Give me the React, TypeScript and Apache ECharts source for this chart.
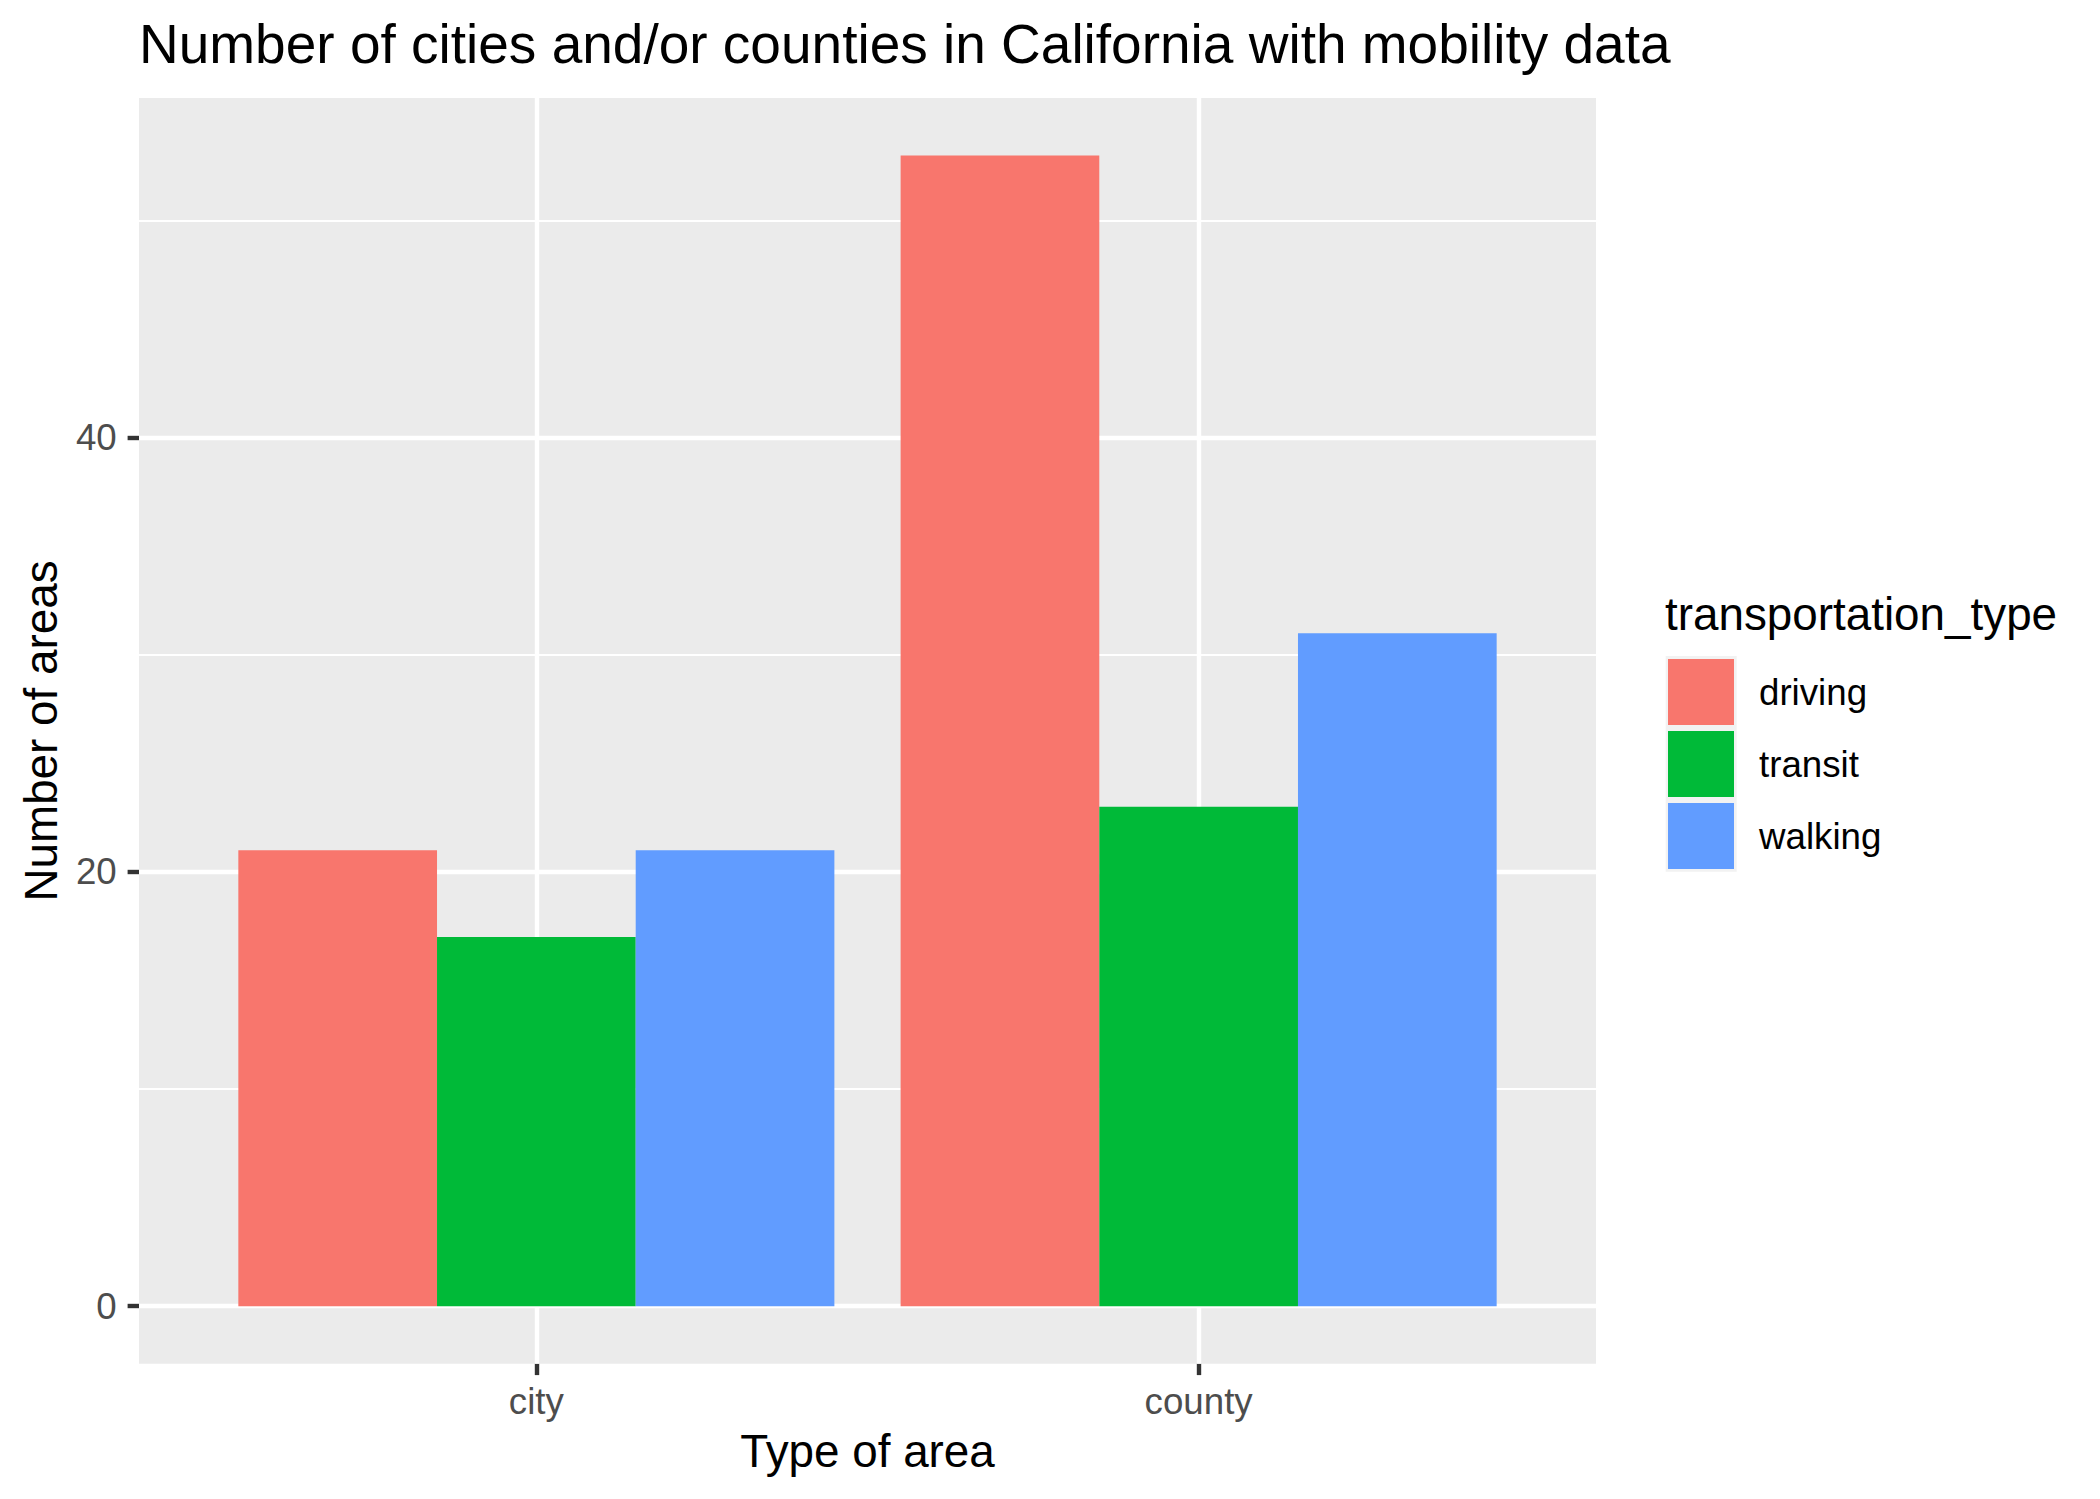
import React, { useEffect, useRef } from "react";
import * as echarts from "echarts";

const categories = ["city", "county"];
const transportTypes = ["driving", "transit", "walking"];
const drivingValues = [21, 53];
const transitValues = [17, 23];
const walkingValues = [21, 31];
const yTickValues = [0, 20, 40];
const yMinorValues = [10, 30, 50];
const fillColors = ["#F8766D", "#00BA38", "#619CFF"];

const FONT = "'Liberation Sans', Arial, Helvetica, sans-serif";

export default function App() {
  const ref = useRef<HTMLDivElement>(null);

  useEffect(() => {
    if (!ref.current) return;
    const chart = echarts.init(ref.current, undefined, { renderer: "svg" });

    const panelLeft = 139;
    const panelTop = 98;
    const panelWidth = 1457;
    const panelHeight = 1265.7;
    const xMin = 0.4;
    const xMax = 2.6;
    const unitPx = panelWidth / (xMax - xMin);
    const barW = 0.3 * unitPx;

    const seriesValues = [drivingValues, transitValues, walkingValues];
    const xPositions = categories.map((_, i) => i + 1);

    const gridLines = {
      silent: true,
      symbol: ["none", "none"],
      z: 1,
      label: { show: false },
      emphasis: { disabled: true },
      data: [
        ...yMinorValues.map((v) => ({ yAxis: v, lineStyle: { color: "#FFFFFF", width: 2.2, type: "solid" } })),
        ...yTickValues.map((v) => ({ yAxis: v, lineStyle: { color: "#FFFFFF", width: 4.4, type: "solid" } })),
        ...xPositions.map((v) => ({ xAxis: v, lineStyle: { color: "#FFFFFF", width: 4.4, type: "solid" } })),
      ],
    };

    const series: any[] = transportTypes.map((name, si) => ({
      name,
      type: "bar",
      barWidth: barW,
      barGap: "0%",
      z: 2,
      itemStyle: { color: fillColors[si] },
      data: xPositions.map((x, i) => [x, seriesValues[si][i]]),
      // middle series of the dodge has zero offset, so its markers sit on the category centre
      ...(si === 1 ? { markLine: gridLines } : {}),
    }));

    chart.setOption({
      animation: false,
      backgroundColor: "#FFFFFF",
      textStyle: { fontFamily: FONT },
      grid: {
        left: panelLeft,
        top: panelTop,
        width: panelWidth,
        height: panelHeight,
        show: true,
        backgroundColor: "#EBEBEB",
        borderWidth: 0,
        containLabel: false,
      },
      xAxis: {
        type: "value",
        min: xMin,
        max: xMax,
        axisLine: { show: false, onZero: false },
        splitLine: { show: false },
        axisTick: {
          show: true,
          customValues: xPositions,
          length: 11.4,
          lineStyle: { color: "#333333", width: 4.4 },
        },
        axisLabel: {
          show: true,
          customValues: xPositions,
          formatter: (v: number) => categories[Math.round(v) - 1] ?? "",
          color: "#4D4D4D",
          fontSize: 36.7,
          fontFamily: FONT,
          margin: 19,
        },
      },
      yAxis: {
        type: "value",
        min: -2.65,
        max: 55.65,
        axisLine: { show: false, onZero: false },
        splitLine: { show: false },
        axisTick: {
          show: true,
          customValues: yTickValues,
          length: 11.4,
          lineStyle: { color: "#333333", width: 4.4 },
        },
        axisLabel: {
          show: true,
          customValues: yTickValues,
          color: "#4D4D4D",
          fontSize: 36.7,
          fontFamily: FONT,
          margin: 22.3,
        },
      },
      legend: {
        orient: "vertical",
        left: 1668,
        top: 659,
        padding: 0,
        itemWidth: 66,
        itemHeight: 66,
        itemGap: 6,
        icon: "rect",
        selectedMode: false,
        data: transportTypes,
        textStyle: {
          fontSize: 36.7,
          color: "#000000",
          fontFamily: FONT,
          padding: [0, 0, 0, 20],
        },
      },
      graphic: [
        {
          type: "rect",
          z: 0,
          silent: true,
          shape: { x: 1665.7, y: 656, width: 71, height: 215.7 },
          style: { fill: "#F2F2F2" },
        },
        {
          type: "text",
          x: 139,
          y: 44.4,
          style: {
            text: "Number of cities and/or counties in California with mobility data",
            fontSize: 55,
            fontFamily: FONT,
            fill: "#000000",
            textAlign: "left",
            textVerticalAlign: "middle",
          },
        },
        {
          type: "text",
          x: 867.5,
          y: 1451,
          style: {
            text: "Type of area",
            fontSize: 45.8,
            fontFamily: FONT,
            fill: "#000000",
            textAlign: "center",
            textVerticalAlign: "middle",
          },
        },
        {
          type: "text",
          x: 41.8,
          y: 731,
          rotation: Math.PI / 2,
          style: {
            text: "Number of areas",
            fontSize: 45.8,
            fontFamily: FONT,
            fill: "#000000",
            textAlign: "center",
            textVerticalAlign: "middle",
          },
        },
        {
          type: "text",
          x: 1665,
          y: 614,
          style: {
            text: "transportation_type",
            fontSize: 45.8,
            fontFamily: FONT,
            fill: "#000000",
            textAlign: "left",
            textVerticalAlign: "middle",
          },
        },
      ],
      series,
    });

    return () => chart.dispose();
  }, []);

  return (
    <div
      ref={ref}
      style={{ position: "fixed", left: 0, top: 0, width: 2100, height: 1499 }}
    />
  );
}
